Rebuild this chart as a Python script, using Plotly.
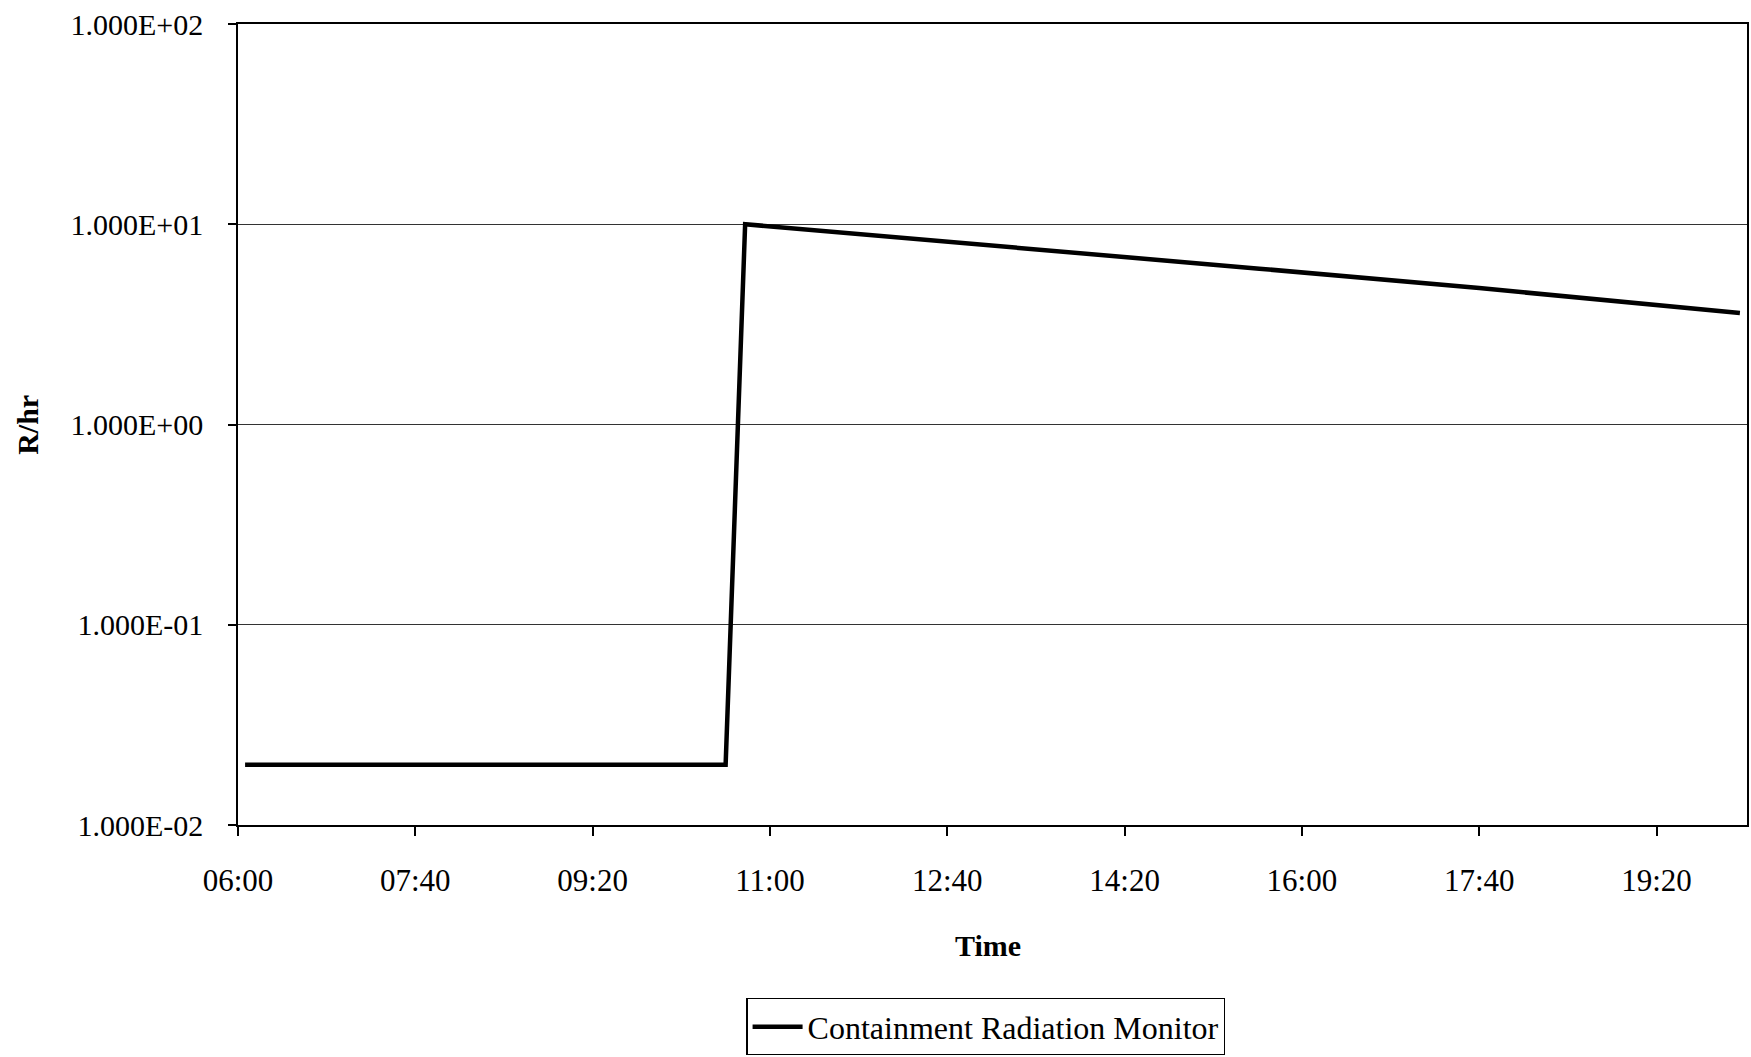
import plotly.graph_objects as go

# Data
times = ["06:04", "07:40", "09:20", "10:35", "10:46", "12:40", "14:20", "15:36", "17:40", "19:20", "20:07"]
values = [0.02, 0.02, 0.02, 0.02, 10.0, 8.2, 6.9, 6.0, 4.8, 3.95, 3.6]
series_name = "Containment Radiation Monitor"
y_tickvals = [0.01, 0.1, 1, 10, 100]
y_ticktext = ["1.000E-02", "1.000E-01", "1.000E+00", "1.000E+01", "1.000E+02"]

day = "2000-01-01 "
x = [day + t for t in times]

FONT = "Liberation Serif, Times New Roman, serif"

fig = go.Figure()
fig.add_trace(go.Scatter(
    x=x, y=values, mode="lines", name=series_name,
    line=dict(color="black", width=4.5),
))

fig.update_layout(
    width=1751, height=1057,
    paper_bgcolor="white", plot_bgcolor="white",
    margin=dict(l=238, r=2, t=24, b=224),
    font=dict(family=FONT, size=30, color="black"),
    showlegend=True,
    legend=dict(
        x=0.3369, y=-0.2163, xanchor="left", yanchor="top",
        bordercolor="black", borderwidth=1.2,
        font=dict(family=FONT, size=32, color="black"),
        bgcolor="white", itemwidth=50,
    ),
    annotations=[
        dict(text="<b>R/hr</b>", xref="paper", yref="paper",
             x=-0.1396, y=0.5, xanchor="center", yanchor="middle",
             textangle=-90, showarrow=False,
             font=dict(family=FONT, size=30, color="black")),
        dict(text="<b>Time</b>", xref="paper", yref="paper",
             x=0.497, y=-0.15, xanchor="center", yanchor="middle",
             showarrow=False,
             font=dict(family=FONT, size=30, color="black")),
    ],
)

fig.update_xaxes(
    type="date",
    range=[day + "06:00", day + "20:11"],
    tick0=day + "06:00", dtick=100 * 60 * 1000,
    tickformat="%H:%M",
    ticks="outside", ticklen=9, tickcolor="black", tickwidth=1.5,
    ticklabelstandoff=18,
    showgrid=False, zeroline=False,
    showline=True, linecolor="black", linewidth=1.5, mirror=True,
    tickfont=dict(family=FONT, size=31, color="black"),
)

fig.update_yaxes(
    type="log", range=[-2, 2],
    tickvals=y_tickvals, ticktext=y_ticktext,
    ticks="outside", ticklen=8, tickcolor="black", tickwidth=1.5,
    ticklabelstandoff=19,
    showgrid=True, gridcolor="#333333", gridwidth=1,
    zeroline=False,
    showline=True, linecolor="black", linewidth=1.5, mirror=True,
    tickfont=dict(family=FONT, size=30, color="black"),
)

fig.write_html("out.html")
